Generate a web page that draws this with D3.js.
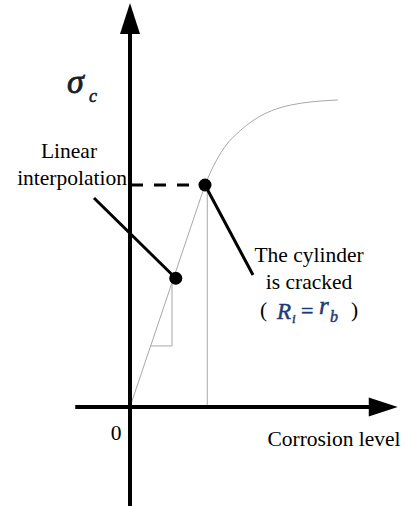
<!DOCTYPE html>
<html><head><meta charset="utf-8"><script src="https://cdn.jsdelivr.net/npm/d3@7"></script></head>
<body style="margin:0">
<script>
// conceptual curve: corrosion level (x) vs cylinder strength sigma_c (y)
const linearPart = [[0, 0], [1, 1]];
const curvePart = [[1, 1], [1.09, 1.07], [1.26, 1.17], [1.47, 1.245], [1.64, 1.29], [2.14, 1.36], [2.77, 1.383]];
const crackedPoint = [1, 1];
const interpPoint = [0.61, 0.58];
const slopeTriangle = [[0.275, 0.275], [0.56, 0.275], [0.56, 0.56]];
const crackDrop = [[1.03, 1], [1.03, 0]];
const xExtent = [-0.73, 3.57];
const yExtent = [-1.49, 1.82];

const serif = '"Liberation Serif"';
const conf = { width: 406, height: 506 };

const x = d3.scaleLinear().domain([0, 1]).range([130, 205]);
const y = d3.scaleLinear().domain([0, 1]).range([407, 185]);

const svg = d3.select('body').append('svg')
  .attr('width', conf.width)
  .attr('height', conf.height)
  .style('display', 'block')
  .style('font-family', "'Liberation Serif', 'Times New Roman', Times, serif");

const line = d3.line().x(d => x(d[0])).y(d => y(d[1]));

// thin grey construction lines
const grey = svg.append('g')
  .attr('fill', 'none')
  .attr('stroke', '#a8a8a8')
  .attr('stroke-width', 1);

grey.append('path').attr('d', line(linearPart));
grey.append('path').attr('d', line.curve(d3.curveMonotoneX)(curvePart));
line.curve(d3.curveLinear);
grey.append('path').attr('d', line(slopeTriangle));
grey.append('path').attr('d', line(crackDrop));

// axes with arrow heads
const axes = svg.append('g');
axes.append('line')
  .attr('x1', x(xExtent[0])).attr('x2', x(xExtent[1]) - 20)
  .attr('y1', y(0)).attr('y2', y(0))
  .attr('stroke', '#000').attr('stroke-width', 4);
axes.append('line')
  .attr('x1', x(0)).attr('x2', x(0))
  .attr('y1', y(yExtent[0])).attr('y2', y(yExtent[1]) + 20)
  .attr('stroke', '#000').attr('stroke-width', 4);

const xt = x(xExtent[1]), yt = y(yExtent[1]);
axes.append('path')
  .attr('d', `M${xt},${y(0)} L${xt - 29},${y(0) - 9.5} L${xt - 29},${y(0) + 9.5} Z`)
  .attr('fill', '#000');
axes.append('path')
  .attr('d', `M${x(0)},${yt} L${x(0) - 10},${yt + 31} L${x(0) + 10},${yt + 31} Z`)
  .attr('fill', '#000');

// dashed projection to the stress axis
svg.append('line')
  .attr('x1', x(0) + 1).attr('x2', x(crackedPoint[0]))
  .attr('y1', y(crackedPoint[1])).attr('y2', y(crackedPoint[1]))
  .attr('stroke', '#000').attr('stroke-width', 3)
  .attr('stroke-dasharray', '12,11');

// leader lines
svg.append('line')
  .attr('x1', 94).attr('y1', 198)
  .attr('x2', x(interpPoint[0])).attr('y2', y(interpPoint[1]))
  .attr('stroke', '#000').attr('stroke-width', 3);
svg.append('line')
  .attr('x1', x(crackedPoint[0])).attr('y1', y(crackedPoint[1]))
  .attr('x2', 253).attr('y2', 275)
  .attr('stroke', '#000').attr('stroke-width', 3);

// points
svg.selectAll('circle.pt')
  .data([crackedPoint, interpPoint])
  .enter()
  .append('circle')
  .attr('class', 'pt')
  .attr('cx', d => x(d[0]))
  .attr('cy', d => y(d[1]))
  .attr('r', 6.5)
  .attr('fill', '#000');

// labels
const labels = [
  { t: 'Linear', x: 69, y: 158, a: 'middle' },
  { t: 'interpolation', x: 127, y: 185, a: 'end' },
  { t: 'The cylinder', x: 309, y: 262, a: 'middle' },
  { t: 'is cracked', x: 309, y: 289, a: 'middle' },
  { t: '(', x: 260, y: 317, a: 'start' },
  { t: ')', x: 351, y: 317, a: 'start' },
  { t: '0', x: 116, y: 440, a: 'middle' },
  { t: 'Corrosion level', x: 334, y: 446, a: 'middle' }
];
svg.selectAll('text.lbl')
  .data(labels)
  .enter()
  .append('text')
  .attr('class', 'lbl')
  .attr('font-family', serif)
  .attr('font-size', 21.5)
  .attr('fill', '#000')
  .attr('x', d => d.x)
  .attr('y', d => d.y)
  .attr('text-anchor', d => d.a)
  .text(d => d.t);

// sigma_c
svg.append('text').attr('x', 67).attr('y', 93)
  .attr('font-family', serif).attr('font-style', 'italic').attr('font-size', 34)
  .attr('fill', '#1c1c28').attr('stroke', '#1c1c28').attr('stroke-width', 0.8)
  .text('σ');
svg.append('text').attr('x', 89).attr('y', 102)
  .attr('font-family', serif).attr('font-style', 'italic').attr('font-size', 18)
  .attr('fill', '#1c1c28').attr('stroke', '#1c1c28').attr('stroke-width', 0.6)
  .text('c');

// R_i = r_b
const eqParts = [
  { t: 'R', x: 277, y: 319, s: 23, it: true },
  { t: 'i', x: 292, y: 323, s: 13, it: true },
  { t: '=', x: 301, y: 318, s: 22, it: false },
  { t: 'r', x: 319, y: 314, s: 25, it: true },
  { t: 'b', x: 330, y: 322, s: 16, it: true }
];
svg.selectAll('text.eq')
  .data(eqParts)
  .enter()
  .append('text')
  .attr('class', 'eq')
  .attr('font-family', serif)
  .attr('font-style', d => d.it ? 'italic' : 'normal')
  .attr('font-size', d => d.s)
  .attr('fill', '#1f3b73')
  .attr('stroke', '#1f3b73').attr('stroke-width', 0.5)
  .attr('x', d => d.x)
  .attr('y', d => d.y)
  .text(d => d.t);
</script>
</body>
</html>
